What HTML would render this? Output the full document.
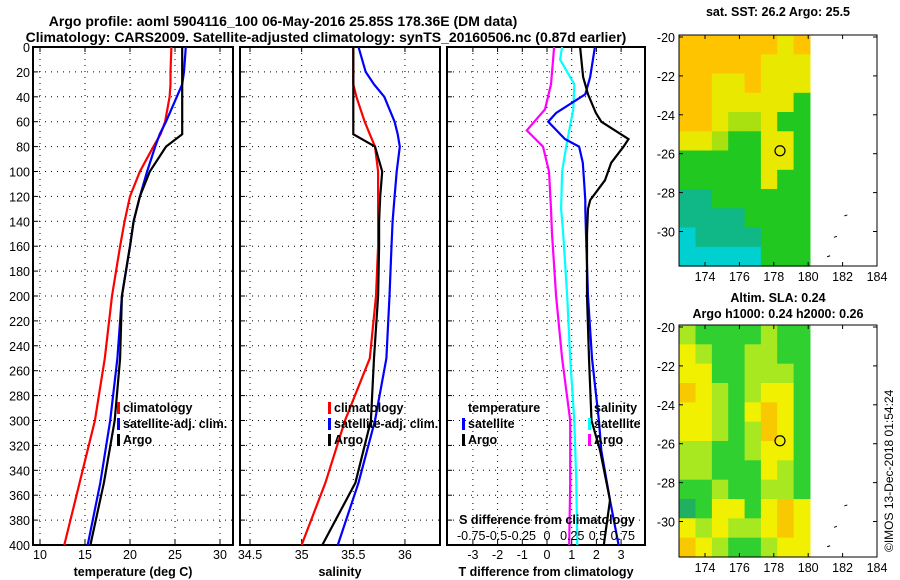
<!DOCTYPE html>
<html><head><meta charset="utf-8"><style>
body{margin:0;background:#fff;}
svg{display:block;font-family:"Liberation Sans",sans-serif;}
text{font-size:12.5px;fill:#000;}
.b{font-weight:bold;}
</style></head><body>
<svg id="c" width="900" height="580" xmlns="http://www.w3.org/2000/svg">
<text x="283" y="26" text-anchor="middle" class="b" style="font-size:14px">Argo profile: aoml 5904116_100 06-May-2016 25.85S 178.36E (DM data)</text>
<text x="326" y="42" text-anchor="middle" class="b" style="font-size:14px">Climatology: CARS2009. Satellite-adjusted climatology: synTS_20160506.nc (0.87d earlier)</text>
<text x="778" y="16" text-anchor="middle" class="b">sat. SST: 26.2 Argo: 25.5</text>
<text x="778" y="302" text-anchor="middle" class="b">Altim. SLA: 0.24</text>
<text x="778" y="318" text-anchor="middle" class="b">Argo h1000: 0.24 h2000: 0.26</text>
<text transform="translate(893,552) rotate(-90)" style="font-size:12px">©IMOS 13-Dec-2018 01:54:24</text>
<g id="g"></g>
</svg>
<script>
// ---- profile data (depth in m) ----
const depths=[0,20,30,40,60,70,80,100,120,140,160,200,250,300,350,400];
const tClim=[24.6,24.5,24.5,24.4,23.9,23.4,22.6,21.1,20.0,19.4,18.9,18.0,17.2,16.1,14.4,12.7];
const tSat=[26.2,26.0,25.8,25.2,24.0,23.3,22.8,21.9,21.1,20.4,20.0,19.1,18.6,17.8,16.7,15.3];
const tArgo=[25.8,25.8,25.8,25.8,25.8,25.8,24.0,22.2,21.1,20.4,20.0,19.1,18.9,18.3,17.1,15.6];
const sClim=[35.5,35.5,35.5,35.53,35.61,35.66,35.71,35.74,35.74,35.74,35.74,35.72,35.66,35.42,35.23,35.0];
const sSat=[35.55,35.62,35.7,35.8,35.9,35.93,35.95,35.92,35.9,35.88,35.87,35.85,35.82,35.71,35.55,35.35];
const sArgo=[35.5,35.5,35.5,35.5,35.5,35.5,35.71,35.78,35.76,35.75,35.75,35.74,35.7,35.67,35.52,35.2];
const dT_depths=[0,24,38,53,60,74,80,93,107,123,130,150,200,250,300,324,364,400];
const dTSat=[1.94,1.75,1.55,0.37,0.05,0.73,1.3,1.45,1.5,1.55,1.55,1.58,1.66,1.82,2.1,2.2,2.55,2.9];
const dTArgo=[1.34,1.46,1.66,1.98,2.2,3.3,3.1,2.6,2.35,1.75,1.66,1.62,1.62,1.7,1.8,2.15,2.55,2.3];
const dS_depths=[0,10,30,50,67,80,100,130,150,200,250,300,350,400];
const dSSat=[0.15,0.13,0.27,0.26,0.22,0.19,0.15,0.14,0.16,0.2,0.23,0.27,0.29,0.3];
const dSArgo=[0.07,0.06,0.04,-0.02,-0.2,-0.04,0.02,0.04,0.05,0.09,0.15,0.23,0.23,0.22];
const depthTicks=[0,20,40,60,80,100,120,140,160,180,200,220,240,260,280,300,320,340,360,380,400];
const tTicks=[10,15,20,25,30];
const sTicks=[34.5,35,35.5,36];
const dTTicks=[-3,-2,-1,0,1,2,3];
const dSTicks=[-0.75,-0.5,-0.25,0,0.25,0.5,0.75];
const dSTickLabels=["-0.75","-0.5","-0.25","0","0.25","0.5","0.75"];
// ---- map data ----
const sstVals=[
[26.5,26.5,26.5,26.5,26.5,26.5,26,26.5],
[26.5,26.5,26.5,26.5,26.5,26,26,26],
[26.5,26.5,26,26,26.5,26,26,26],
[26.5,26.5,26,26,26,26,26,25.2],
[26.5,26.5,26,25.7,25.7,26,25.2,25.2],
[26,26,25.7,25.2,25.2,26,26,25.2],
[25.2,25.2,25.2,25.2,25.2,26,26,25.2],
[25.2,25.2,25.2,25.2,25.2,26,25.2,25.2],
[24.7,24.7,25.2,25.2,25.2,25.2,25.2,25.2],
[24.7,24.7,24.7,24.7,25.2,25.2,25.2,25.2],
[24.2,24.7,24.7,24.7,24.7,25.2,25.2,25.2],
[24.2,24.2,24.2,24.2,24.2,25.2,25.2,25.2]];
const slaVals=[
[2,1,1,1,1,2,1,1],[3,2,1,1,2,2,1,1],[3,3,1,1,2,2,2,1],[4,3,2,1,2,3,3,1],
[3,3,2,1,3,4,3,1],[3,3,2,1,2,4,3,1],[2,2,1,1,2,3,3,1],[2,2,1,1,1,3,2,1],
[1,1,2,1,1,2,2,1],[0,1,3,3,1,3,4,3],[3,2,3,2,2,3,4,3],[4,3,2,1,1,2,3,3]];
const latTicks=[-20,-22,-24,-26,-28,-30];
const lonTicks=[174,176,178,180,182,184];
const argoPos=[178.36,-25.85];

const NS="http://www.w3.org/2000/svg";
const G=document.getElementById('g');
function mk(t,a,p){const e=document.createElementNS(NS,t);for(const k in a)e.setAttribute(k,a[k]);(p||G).appendChild(e);return e;}
const Y0=47,Y1=545;
const yD=d=>Y0+(Y1-Y0)*d/400;
const xT=v=>40+(v-10)*9;
const xS=v=>250+(v-34.5)*103.3;
const xdT=v=>547+v*24.7;
const xdS=v=>547+v*101;

function panel(name,x0,x1,xt,ticks,labels,xlab,yl){
  const r=mk('rect',{x:x0,y:Y0,width:x1-x0,height:Y1-Y0,fill:'none',stroke:'#000','stroke-width':2});
  
  
  depthTicks.forEach(d=>{
    if(d>0&&d<400){const l=mk('line',{x1:x0,x2:x1,y1:yD(d),y2:yD(d),stroke:'#000','stroke-dasharray':'1,5'});
    
    }
    mk('line',{x1:x0,x2:x0+5,y1:yD(d),y2:yD(d),stroke:'#000'});
    if(yl){const t=mk('text',{x:30,y:yD(d)+5,'text-anchor':'end'});t.textContent=d;
    
    }
  });
  ticks.forEach((v,i)=>{const x=xt(v);
    const l=mk('line',{x1:x,x2:x,y1:Y0,y2:Y1,stroke:'#000','stroke-dasharray':'1,5'});
    
    
    mk('line',{x1:x,x2:x,y1:Y1,y2:Y1-5,stroke:'#000'});
    mk('line',{x1:x,x2:x,y1:Y0,y2:Y0+5,stroke:'#000'});
    const t=mk('text',{x:x,y:559,'text-anchor':'middle'});t.textContent=labels[i];
    
    
  });
  const t=mk('text',{x:(x0+x1)/2,y:576,'text-anchor':'middle','class':'b'});t.textContent=xlab;
  
  
}
panel('temperature-panel',33,233,xT,tTicks,tTicks,'temperature (deg C)',true);
panel('salinity-panel',240,440,xS,sTicks,sTicks,'salinity',false);
panel('difference-panel',447,645,xdT,dTTicks,dTTicks,'T difference from climatology',false);

function line(name,ds,vs,xf,col){
  const pts=ds.map((d,i)=>xf(vs[i]).toFixed(1)+','+yD(d).toFixed(1)).join(' ');
  const p=mk('polyline',{points:pts,fill:'none',stroke:col,'stroke-width':2.2});
  
  
}
line('temp-climatology-line',depths,tClim,xT,'#ff0000');
line('temp-satellite-line',depths,tSat,xT,'#0000ff');
line('temp-argo-line',depths,tArgo,xT,'#000');
line('sal-climatology-line',depths,sClim,xS,'#ff0000');
line('sal-satellite-line',depths,sSat,xS,'#0000ff');
line('sal-argo-line',depths,sArgo,xS,'#000');
line('dS-argo-line',dS_depths,dSArgo,xdS,'#ff00ff');
line('dS-satellite-line',dS_depths,dSSat,xdS,'#00ffff');
line('dT-satellite-line',dT_depths,dTSat,xdT,'#0000ff');
line('dT-argo-line',dT_depths,dTArgo,xdT,'#000');

function leg(x,y,col,txt,name){
  if(col){const r=mk('rect',{x:x-6,y:y-10,width:3,height:12,fill:col});
  
  }
  const t=mk('text',{x:x,y:y,'class':'b'});t.textContent=txt;
  
  
}
leg(123,412,'#ff0000','climatology','legend-climatology');
leg(123,428,'#0000ff','satellite-adj. clim.','legend-satellite');
leg(123,444,'#000','Argo','legend-argo');
leg(334,412,'#ff0000','climatology','legend-climatology-2');
leg(334,428,'#0000ff','satellite-adj. clim.','legend-satellite-2');
leg(334,444,'#000','Argo','legend-argo-2');
leg(468,412,null,'temperature','legend-temperature-header');
leg(468,428,'#0000ff','satellite','legend-t-satellite');
leg(468,444,'#000','Argo','legend-t-argo');
leg(594,412,null,'salinity','legend-salinity-header');
leg(594,428,'#00ffff','satellite','legend-s-satellite');
leg(594,444,'#ff00ff','Argo','legend-s-argo');
{const t=mk('text',{x:547,y:524,'text-anchor':'middle','class':'b'});t.textContent='S difference from climatology';

}
dSTicks.forEach((v,i)=>{const t=mk('text',{x:xdS(v),y:540,'text-anchor':'middle'});t.textContent=dSTickLabels[i];

});

// maps
function map(name,top,bot,vals,colf){
  const L=679,R=877,lonX=v=>705+(v-174)*17.2,latY=v=>top+2+(-20-v)*19.45;
  const lon0=172.5,lon1=180.1;
  const nr=vals.length,nc=vals[0].length;
  const cw=(lonX(lon1)-lonX(lon0))/nc,ch=(bot-top)/nr;
  vals.forEach((row,i)=>row.forEach((v,j)=>{
    const c=mk('rect',{x:(lonX(lon0)+j*cw).toFixed(1),y:(top+i*ch).toFixed(1),width:(cw+0.6).toFixed(1),height:(ch+0.6).toFixed(1),fill:colf(v)});
    
    
  }));
  const f=mk('rect',{x:L,y:top,width:R-L,height:bot-top,fill:'none',stroke:'#000'});
  
  
  latTicks.forEach(v=>{const y=latY(v);mk('line',{x1:L,x2:L+4,y1:y,y2:y,stroke:'#000'});mk('line',{x1:R,x2:R-4,y1:y,y2:y,stroke:'#000'});
    const t=mk('text',{x:L-4,y:y+5,'text-anchor':'end'});t.textContent=v;
    
    });
  lonTicks.forEach(v=>{const x=lonX(v);mk('line',{x1:x,x2:x,y1:bot,y2:bot-4,stroke:'#000'});mk('line',{x1:x,x2:x,y1:top,y2:top+4,stroke:'#000'});
    const t=mk('text',{x:x,y:bot+15,'text-anchor':'middle'});t.textContent=v;
    
    });
  const c=mk('circle',{cx:lonX(argoPos[0]),cy:latY(argoPos[1]),r:5,fill:'none',stroke:'#000','stroke-width':1.2});
  
  
  [[182.1,-29.2],[181.5,-30.3],[181.1,-31.3]].forEach(p=>{mk('line',{x1:lonX(p[0]),y1:latY(p[1]),x2:lonX(p[0])+3,y2:latY(p[1])-1,stroke:'#000'});});
}
const sstCol=v=>v>=26.4?'#ffc400':v>=25.9?'#e8e800':v>=25.6?'#a8e010':v>=25.1?'#20c820':v>=24.6?'#10b888':'#00d0d0';
const slaCol=v=>['#20b060','#30d030','#a8e820','#f0f000','#f8c800'][v];
map('sst-map',35,266,sstVals,sstCol);
map('sla-map',325,557,slaVals,slaCol);
</script>
</body></html>
